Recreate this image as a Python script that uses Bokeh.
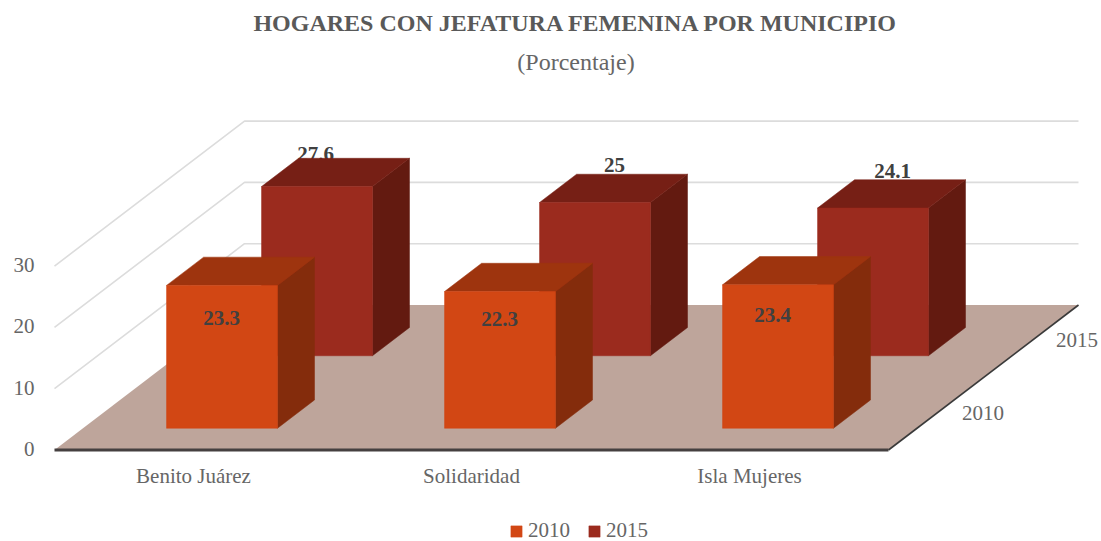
from bokeh.plotting import figure
from bokeh.models import Range1d
from bokeh.core.properties import value
from bokeh.embed import file_html
from bokeh.resources import INLINE

title_text = "HOGARES CON JEFATURA FEMENINA POR MUNICIPIO"
subtitle_text = "(Porcentaje)"
categories = ["Benito Juárez", "Solidaridad", "Isla Mujeres"]
series_names = ["2010", "2015"]
values_2010 = [23.3, 22.3, 23.4]
values_2015 = [27.6, 25, 24.1]
value_ticks = [0, 10, 20, 30]

# layout of the projected 3D box (page pixels)
W, H = 1101, 541
X0, Y0, FLOOR_W = 54, 449.5, 834
DX, DY, PX_PER_UNIT = 190, 145, 6.13
BAR_W = 0.133
BAR_D = 0.195
FONT = value("Liberation Serif")

def px(u, d):
    return X0 + FLOOR_W * u + DX * d

def py(d, v=0):
    return Y0 - DY * d - PX_PER_UNIT * v

p = figure(width=W, height=H, output_backend="svg", toolbar_location=None,
           x_range=Range1d(0, W), y_range=Range1d(H, 0),
           x_axis_type=None, y_axis_type=None, min_border=0,
           outline_line_color=None, background_fill_color="white", border_fill_color="white")
p.xgrid.visible = False
p.ygrid.visible = False

# walls' gridlines
for t in value_ticks[1:]:
    p.line([px(0, 0), px(0, 1), px(1, 1)], [py(0, t), py(1, t), py(1, t)],
           line_color="#DCDCDC", line_width=1.6)

# floor
p.patch([px(0, 0), px(1, 0), px(1, 1), px(0, 1)], [py(0), py(0), py(1), py(1)],
        fill_color="#BEA59B", line_color=None)
p.line([px(1, 0), px(1, 1)], [py(0), py(1)], line_color="#3A3A3A", line_width=1.6)
p.line([px(0, 0), px(1, 0)], [py(0), py(0)], line_color="#454040", line_width=3)

def bars(vals, d0, front, top, side, name):
    fx, fy, tx, ty, sx, sy = [], [], [], [], [], []
    d1 = d0 + BAR_D
    for i, v in enumerate(vals):
        u0 = (i + 0.5) / len(vals) - BAR_W / 2
        u1 = u0 + BAR_W
        fx.append([px(u0, d0), px(u1, d0), px(u1, d0), px(u0, d0)])
        fy.append([py(d0), py(d0), py(d0, v), py(d0, v)])
        tx.append([px(u0, d0), px(u1, d0), px(u1, d1), px(u0, d1)])
        ty.append([py(d0, v), py(d0, v), py(d1, v), py(d1, v)])
        sx.append([px(u1, d0), px(u1, d1), px(u1, d1), px(u1, d0)])
        sy.append([py(d0), py(d1), py(d1, v), py(d0, v)])
    p.patches(sx, sy, fill_color=side, line_color=side, line_width=0.5)
    p.patches(tx, ty, fill_color=top, line_color=top, line_width=0.5)
    p.patches(fx, fy, fill_color=front, line_color=front, line_width=0.5, legend_label=name)

def bar_labels(vals, d0, offsets):
    xs, ys, ts = [], [], []
    for i, v in enumerate(vals):
        u = (i + 0.5) / len(vals)
        xs.append(px(u, d0 + BAR_D / 2) + offsets[i][0])
        ys.append(py(d0, v) + offsets[i][1])
        ts.append(f"{v:g}")
    p.text(xs, ys, text=ts, text_font=FONT, text_font_style="bold", text_font_size="21px",
           text_color="#404040", text_align="center", text_baseline="middle")

D_BACK, D_FRONT = 0.65, 0.15
bar_labels(values_2015, D_BACK, [(-20, -33), (1, -38), (1, -37)])
bars(values_2015, D_BACK, "#9B2B1E", "#761F15", "#631A10", series_names[1])
bars(values_2010, D_FRONT, "#D24714", "#9E340E", "#842C0C", series_names[0])
bar_labels(values_2010, D_FRONT, [(-19, 33), (-19, 27), (-24, 30)])

axis_style = dict(text_font=FONT, text_font_size="21px", text_color="#666666")

# value axis labels
p.text([34] * len(value_ticks), [py(0, t) - 1 for t in value_ticks],
       text=[str(t) for t in value_ticks], text_align="right", text_baseline="middle", **axis_style)
# category labels
p.text([px((i + 0.5) / 3, 0) for i in range(3)], [475.5] * 3, text=categories,
       text_align="center", text_baseline="middle", **axis_style)
# depth axis labels
p.text([px(1, 0.25) + 47, px(1, 0.75) + 46], [py(0.25) - 1, py(0.75) - 1], text=series_names,
       text_align="center", text_baseline="middle", **axis_style)

p.text([575.5], [22.5], text=[title_text], text_font=FONT, text_font_style="bold",
       text_font_size="24px", text_color="#595959", text_align="center", text_baseline="middle")
p.text([575.5], [61.5], text=[subtitle_text], text_font=FONT, text_font_size="24px",
       text_color="#666666", text_align="center", text_baseline="middle")

leg = p.legend[0]
leg.orientation = "horizontal"
leg.location = (509, -2)
leg.border_line_color = None
leg.background_fill_alpha = 0
leg.glyph_width = 14
leg.glyph_height = 14
leg.label_text_font = "Liberation Serif"
leg.label_text_font_size = "21px"
leg.label_text_color = "#666666"
leg.padding = 0
leg.margin = 0
leg.spacing = 17
leg.label_standoff = 5
leg.items = [leg.items[1], leg.items[0]]

open("out.html", "w").write(file_html(p, INLINE))
